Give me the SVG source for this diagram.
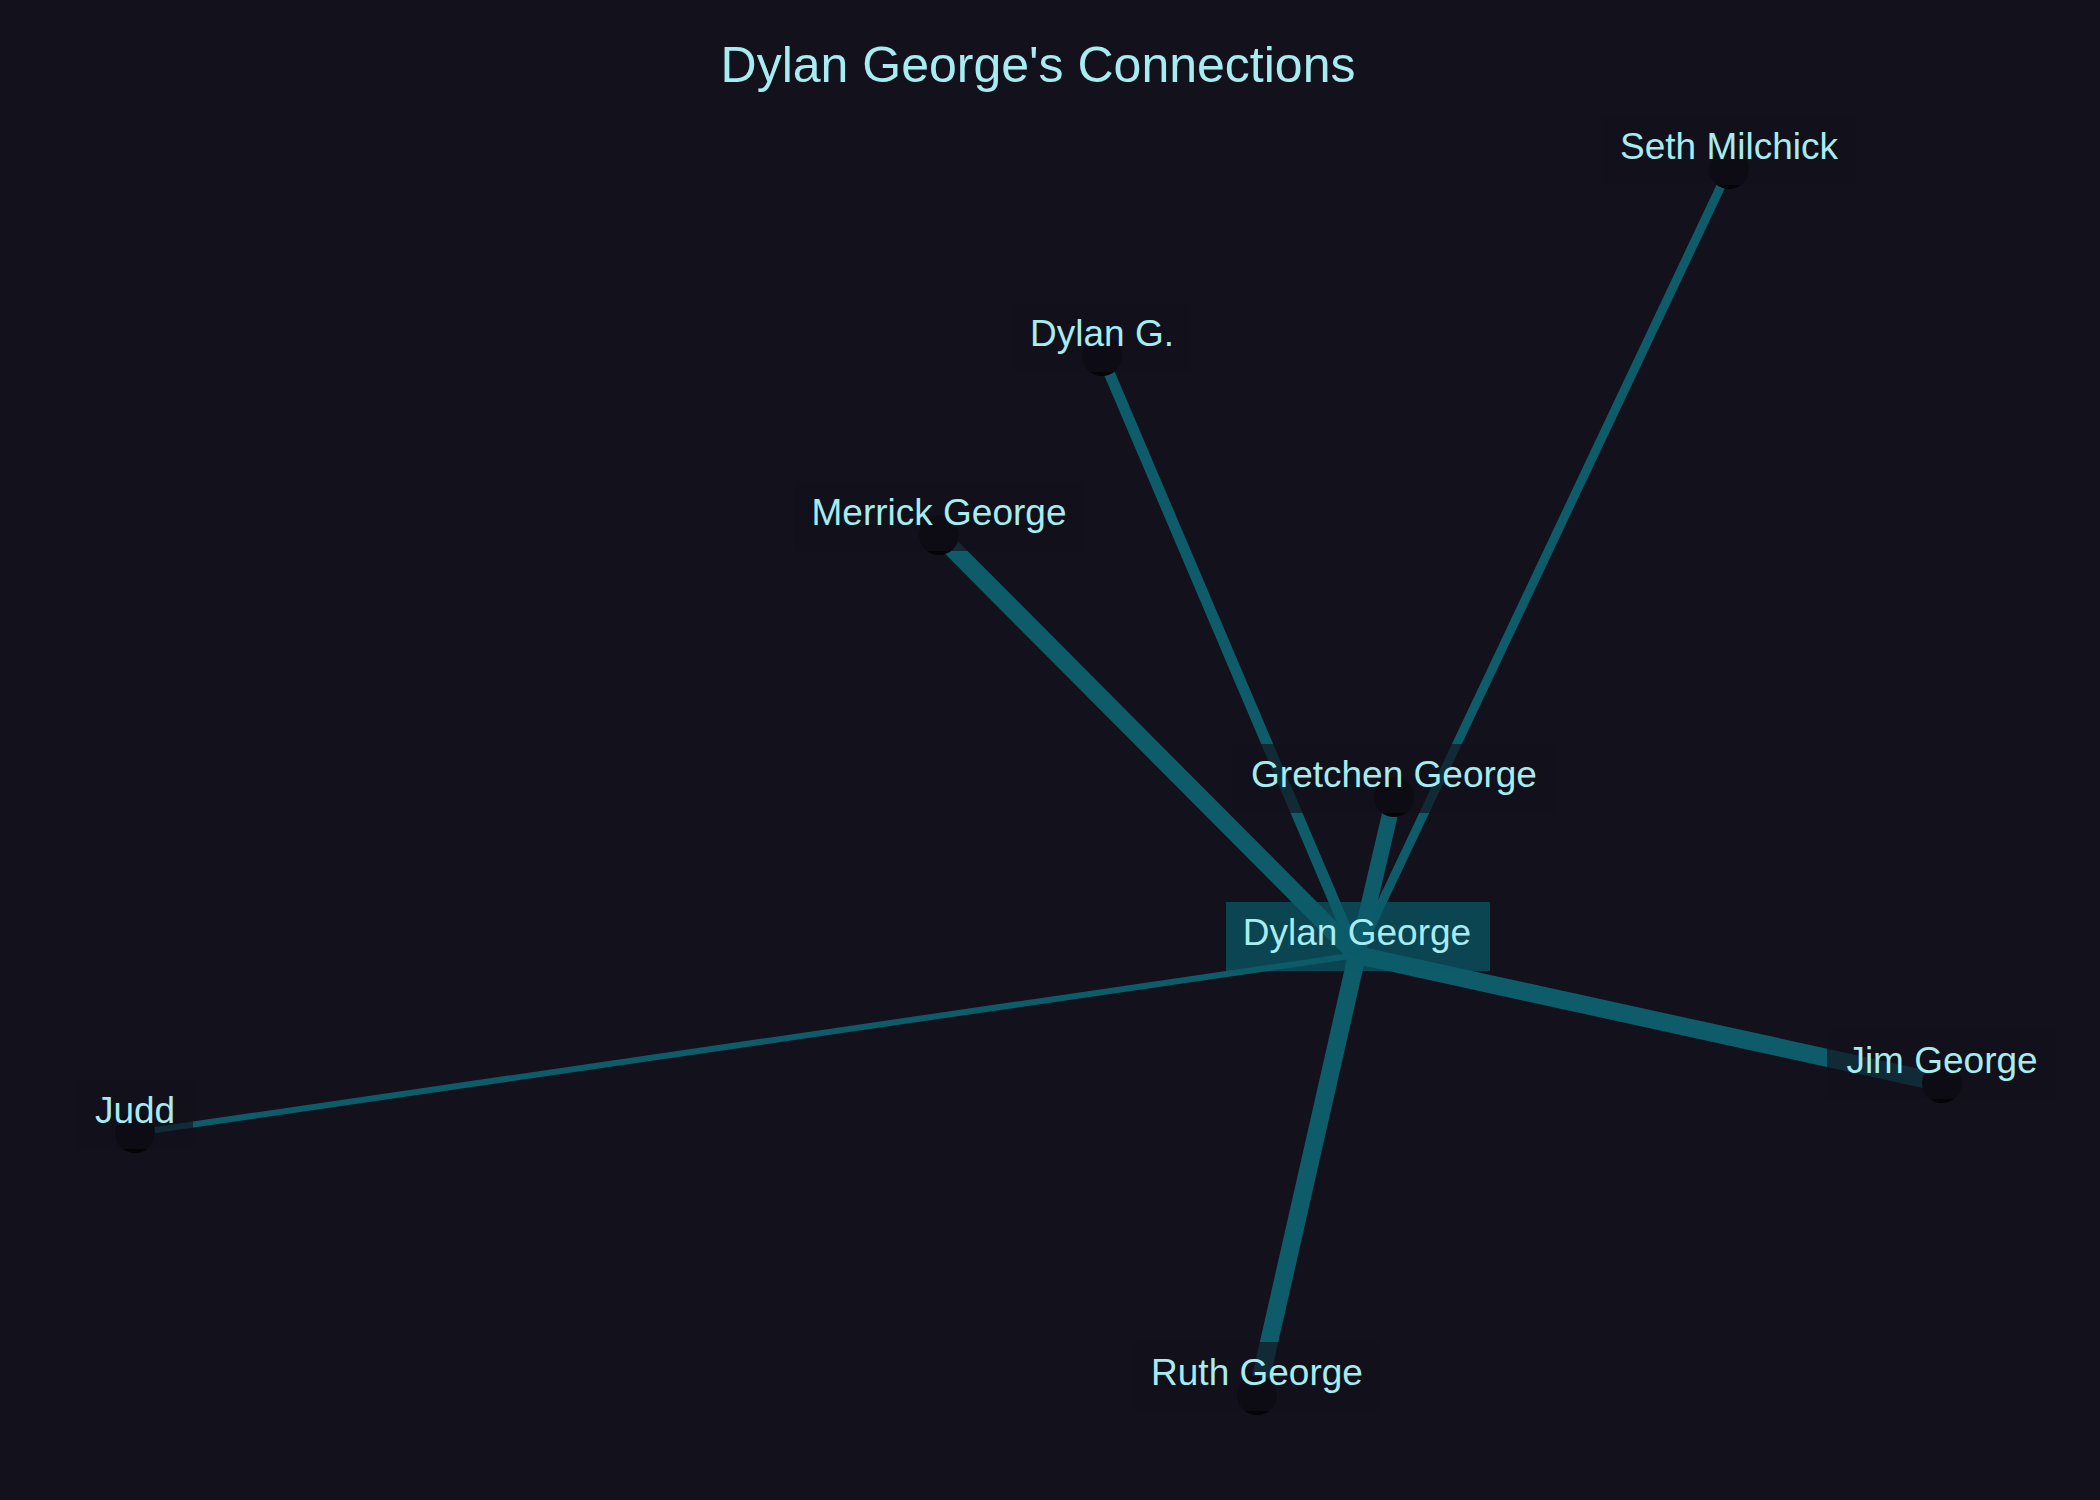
<svg xmlns="http://www.w3.org/2000/svg" width="2100" height="1500" viewBox="0 0 2100 1500">
<style>
.bg{fill:#12111c}
.edge{stroke:#0e5b69;stroke-linecap:butt;fill:none}
.dot{fill:#050508}
.lbox{fill:#12111c;fill-opacity:0.65}
.hbox{fill:#0a5b69;fill-opacity:0.7}
.lbl{font-family:"Liberation Sans",Arial,sans-serif;font-size:37px;fill:#a6ecf0;text-anchor:middle}
.title{font-family:"Liberation Sans",Arial,sans-serif;font-size:50px;fill:#a6ecf0;text-anchor:middle}
</style>
<rect class="bg" x="0" y="0" width="2100" height="1500"/>
<text class="title" x="1038" y="82">Dylan George's Connections</text>
<g id="connectors">
<line class="edge" x1="1357" y1="955" x2="1729" y2="169" stroke-width="9"/>
<line class="edge" x1="1357" y1="955" x2="1102" y2="356" stroke-width="11"/>
<line class="edge" x1="1357" y1="955" x2="939" y2="535" stroke-width="18"/>
<line class="edge" x1="1357" y1="955" x2="1394" y2="797" stroke-width="16"/>
<line class="edge" x1="1357" y1="955" x2="135" y2="1133" stroke-width="6"/>
<line class="edge" x1="1357" y1="955" x2="1942" y2="1083" stroke-width="18"/>
<line class="edge" x1="1357" y1="955" x2="1257" y2="1395" stroke-width="18"/>
</g>
<g id="node-seth">
<circle class="dot" cx="1729" cy="169" r="20"/>
<rect class="lbox" x="1601" y="116" width="255" height="69"/>
<text class="lbl" x="1729" y="159">Seth Milchick</text>
</g>
<g id="node-dylang">
<circle class="dot" cx="1102" cy="356" r="20"/>
<rect class="lbox" x="1014" y="303" width="177" height="69"/>
<text class="lbl" x="1102" y="346">Dylan G.</text>
</g>
<g id="node-merrick">
<circle class="dot" cx="939" cy="535" r="20"/>
<rect class="lbox" x="794" y="482" width="291" height="69"/>
<text class="lbl" x="939" y="525">Merrick George</text>
</g>
<g id="node-gretchen">
<circle class="dot" cx="1394" cy="797" r="20"/>
<rect class="lbox" x="1232" y="744" width="323" height="69"/>
<text class="lbl" x="1394" y="787">Gretchen George</text>
</g>
<g id="node-judd">
<circle class="dot" cx="135" cy="1133" r="20"/>
<rect class="lbox" x="77" y="1080" width="116" height="69"/>
<text class="lbl" x="135" y="1123">Judd</text>
</g>
<g id="node-jim">
<circle class="dot" cx="1942" cy="1083" r="20"/>
<rect class="lbox" x="1827" y="1030" width="229" height="69"/>
<text class="lbl" x="1942" y="1073">Jim George</text>
</g>
<g id="node-ruth">
<circle class="dot" cx="1257" cy="1395" r="20"/>
<rect class="lbox" x="1134" y="1342" width="246" height="69"/>
<text class="lbl" x="1257" y="1385">Ruth George</text>
</g>
<g id="node-dylan-george">
<rect class="hbox" x="1226" y="902" width="264" height="69"/>
<text class="lbl" x="1357" y="945">Dylan George</text>
</g>
</svg>
